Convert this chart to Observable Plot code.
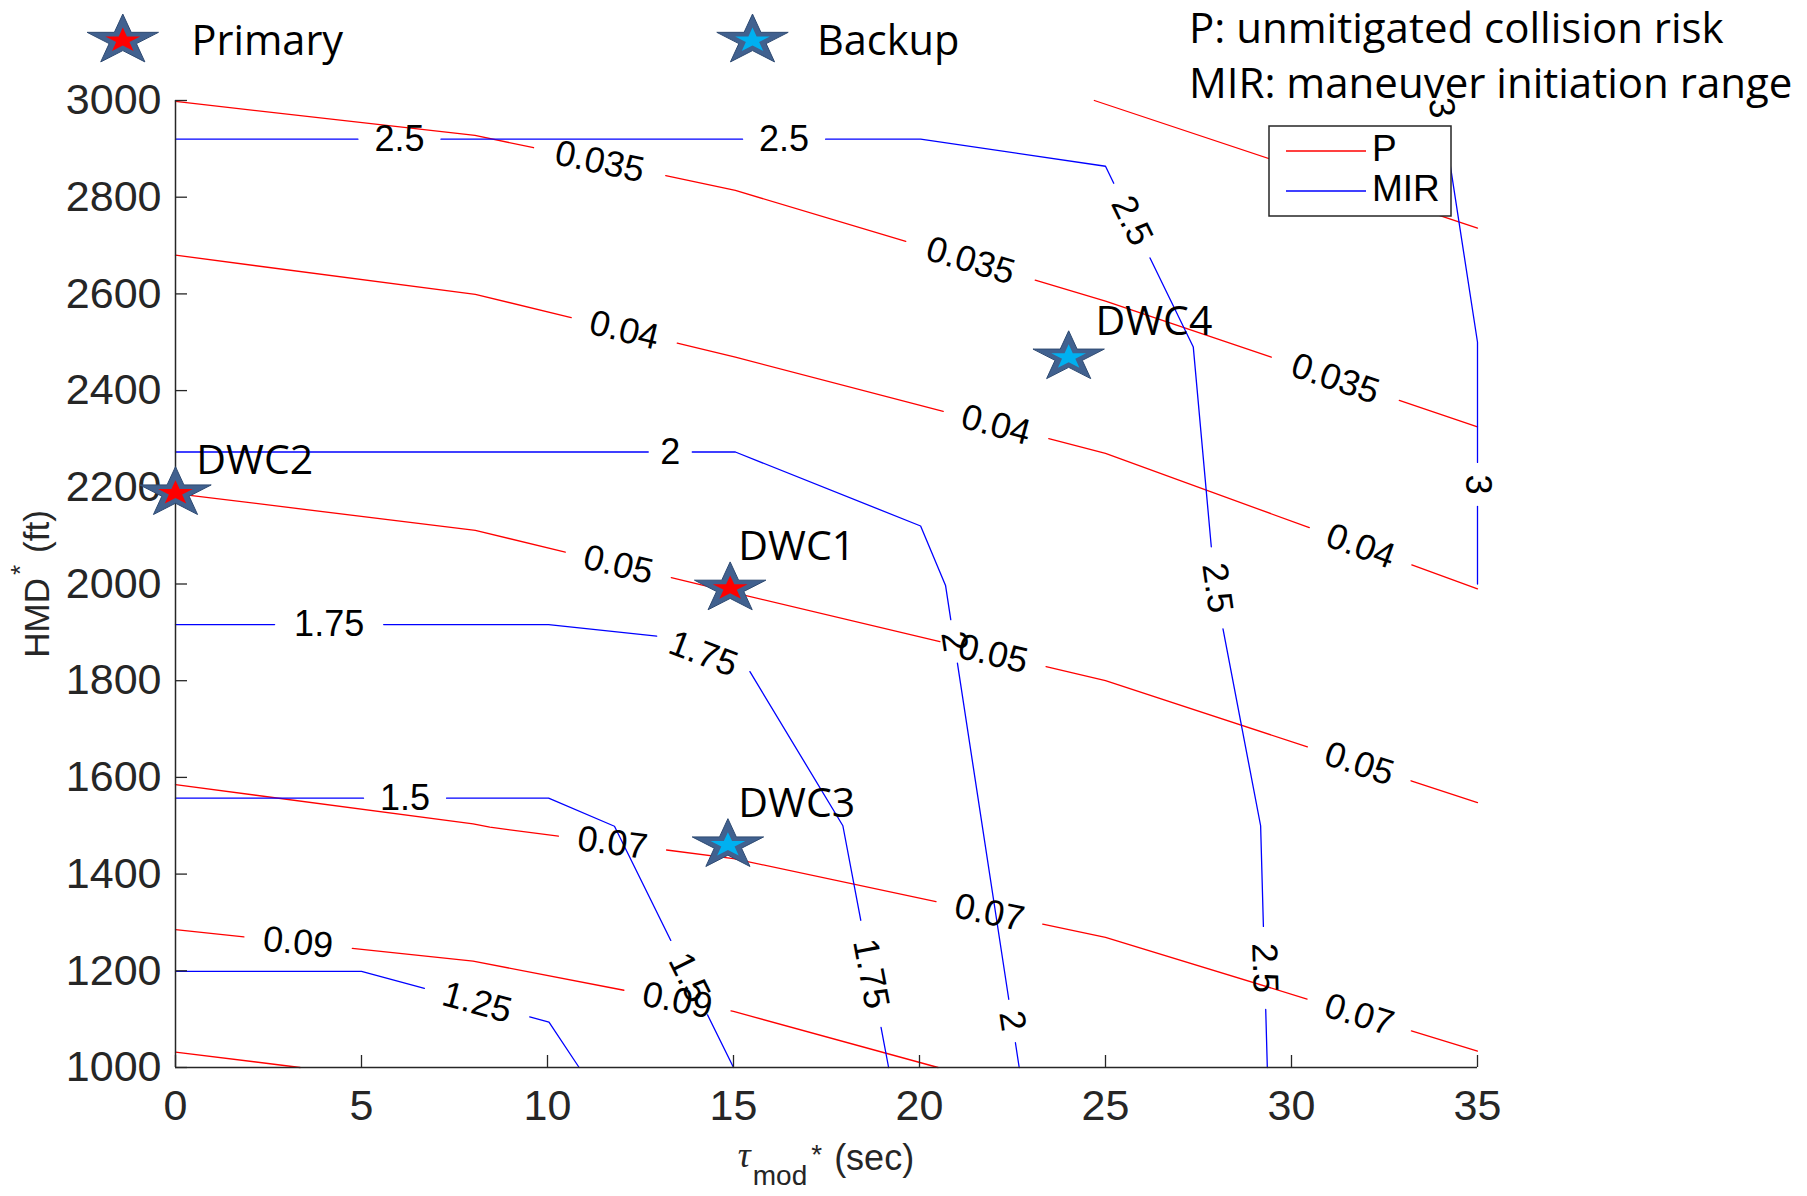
<!DOCTYPE html>
<html>
<head>
<meta charset="utf-8">
<script src="https://cdn.jsdelivr.net/npm/d3@7"></script>
<script src="https://cdn.jsdelivr.net/npm/@observablehq/plot@0.6"></script>
<style>
  html, body { margin: 0; padding: 0; background: #fff; }
  #chart svg { display: block; }
</style>
</head>
<body>
<div id="chart"></div>
<script>
// ---------------- DATA ----------------
const xTicks = [0, 5, 10, 15, 20, 25, 30, 35];
const yTicks = [1000, 1200, 1400, 1600, 1800, 2000, 2200, 2400, 2600, 2800, 3000];

// P: unmitigated collision risk contours (red)
const pLevels = ["0.03", "0.035", "0.04", "0.05", "0.07", "0.09", "0.11"];
const pTau = [
  [24.7, 35],
  [0, 8.05, 15.05, 25, 35],
  [0, 8.06, 15.05, 25, 35],
  [0, 8.06, 15, 25, 35],
  [0, 8, 8.45, 15, 25, 35],
  [0, 8, 15, 20.5],
  [0, 3.35]
];
const pHmd = [
  [3000, 2736],
  [2998, 2928, 2814, 2585, 2325],
  [2680, 2599, 2469, 2270, 1990],
  [2187, 2111, 1982, 1800, 1548],
  [1585, 1504, 1497, 1432, 1269, 1034],
  [1285, 1220, 1116, 1000],
  [1032, 1000]
];
const pLabelLevel = ["0.035", "0.035", "0.035", "0.04", "0.04", "0.04", "0.05", "0.05", "0.05", "0.07", "0.07", "0.07", "0.09", "0.09"];
const pLabelTau = [11.42, 21.4, 31.18, 12.07, 22.06, 31.88, 11.92, 22.0, 31.85, 11.76, 21.9, 31.85, 3.31, 13.51];
const pLabelHmd = [2880, 2676, 2425, 2527, 2330, 2083, 2045, 1863, 1635, 1472, 1328, 1116, 1268, 1145];

// MIR: maneuver initiation range contours (blue)
const mirLevels = ["1.25", "1.5", "1.75", "2", "2.5", "3"];
const mirTau = [
  [0, 5, 10.04, 10.85],
  [0, 10.03, 11.8, 15],
  [0, 10.03, 15, 17.94, 19.17],
  [0, 15.05, 20.03, 20.7, 22.68],
  [0, 20.03, 25, 27.36, 27.94, 29.17, 29.35],
  [34, 35, 35]
];
const mirHmd = [
  [1199, 1199, 1094, 1000],
  [1557, 1557, 1499, 1000],
  [1916, 1916, 1875, 1500, 1000],
  [2273, 2273, 2120, 1997, 1000],
  [2920, 2920, 2864, 2490, 1995, 1500, 1000],
  [3000, 2500, 2000]
];
const mirLabelLevel = ["2.5", "2.5", "2.5", "2.5", "2.5", "2", "2", "2", "1.75", "1.75", "1.75", "1.5", "1.5", "1.25", "3", "3"];
const mirLabelTau = [6.02, 16.36, 25.8, 28.05, 29.35, 13.3, 21.08, 22.56, 4.13, 14.38, 18.78, 6.17, 13.84, 8.13, 34.05, 35];
const mirLabelHmd = [2925, 2925, 2755, 1993, 1206, 2280, 1883, 1097, 1921, 1871, 1195, 1563, 1187, 1141, 2985, 2206];

// Design working cases
const dwcNames = ["DWC1", "DWC2", "DWC3", "DWC4"];
const dwcRole = ["Primary", "Primary", "Backup", "Backup"];
const dwcTau = [14.91, 0, 14.85, 24.01];
const dwcHmd = [1991, 2188, 1460, 2469];
const dwcLabelTau = [15.13, 0.56, 15.13, 24.73];
const dwcLabelHmd = [2076, 2254, 1546, 2543];

// ---------------- LAYOUT ----------------
const W = 1807, H = 1196;
const mL = 175, mR = 330, mT = 100, mB = 129;
const xScale = d3.scaleLinear([0, 35], [mL, W - mR]);
const yScale = d3.scaleLinear([1000, 3000], [H - mB, mT]);
const LABEL_SIZE = 36;

function labelWidth(t) {
  let w = 0;
  for (const c of t) w += c === "." ? 0.278 : 0.556;
  return w * LABEL_SIZE;
}

// Build contour pieces with gaps where labels sit (like MATLAB clabel)
function buildContours(levels, taus, hmds, labLevels, labTaus, labHmds) {
  const lines = levels.map((lev, i) => {
    const pts = taus[i].map((t, j) => [xScale(t), yScale(hmds[i][j])]);
    const cum = [0];
    for (let j = 1; j < pts.length; j++)
      cum.push(cum[j - 1] + Math.hypot(pts[j][0] - pts[j - 1][0], pts[j][1] - pts[j - 1][1]));
    return {lev, pts, cum, gaps: []};
  });
  const at = (L, s) => {
    const tot = L.cum[L.cum.length - 1];
    s = Math.max(0, Math.min(tot, s));
    let j = 1;
    while (j < L.cum.length - 1 && L.cum[j] < s) j++;
    const seg = L.cum[j] - L.cum[j - 1];
    const f = seg > 0 ? (s - L.cum[j - 1]) / seg : 0;
    return [L.pts[j - 1][0] + f * (L.pts[j][0] - L.pts[j - 1][0]),
            L.pts[j - 1][1] + f * (L.pts[j][1] - L.pts[j - 1][1])];
  };
  const labels = labLevels.map((lev, k) => {
    const p = [xScale(labTaus[k]), yScale(labHmds[k])];
    let best = {d: Infinity};
    for (const L of lines) {
      if (L.lev !== lev) continue;
      for (let j = 1; j < L.pts.length; j++) {
        const a = L.pts[j - 1], b = L.pts[j];
        const dx = b[0] - a[0], dy = b[1] - a[1], len2 = dx * dx + dy * dy;
        let t = len2 ? ((p[0] - a[0]) * dx + (p[1] - a[1]) * dy) / len2 : 0;
        t = Math.max(0, Math.min(1, t));
        const d = Math.hypot(p[0] - (a[0] + t * dx), p[1] - (a[1] + t * dy));
        if (d < best.d) best = {d, L, s: L.cum[j - 1] + t * Math.sqrt(len2)};
      }
    }
    const L = best.L;
    const tot = L.cum[L.cum.length - 1];
    const h = (1.3 * labelWidth(lev) + 18) / 2;
    const s0 = Math.max(0, best.s - h), s1 = Math.min(tot, best.s + h);
    L.gaps.push([s0, s1]);
    const p0 = at(L, s0), p1 = at(L, s1);
    let ang = Math.atan2(p1[1] - p0[1], p1[0] - p0[0]) * 180 / Math.PI;
    if (ang > 90) ang -= 180;
    if (ang <= -90) ang += 180;
    const clamped = (best.s - h < 0) || (best.s + h > tot);
    const c = clamped ? at(L, best.s) : [(p0[0] + p1[0]) / 2, (p0[1] + p1[1]) / 2];
    return {x: xScale.invert(c[0]), y: yScale.invert(c[1]), text: lev, angle: ang};
  });
  const pieces = [];
  lines.forEach((L) => {
    const tot = L.cum[L.cum.length - 1];
    const gaps = L.gaps.slice().sort((a, b) => a[0] - b[0]);
    let start = 0;
    const segs = [];
    for (const [g0, g1] of gaps) {
      if (g0 > start) segs.push([start, g0]);
      start = Math.max(start, g1);
    }
    if (start < tot) segs.push([start, tot]);
    segs.forEach(([a, b], k) => {
      if (b - a < 0.5) return;
      const id = L.lev + "-" + k;
      const pts = [at(L, a)];
      L.cum.forEach((c, j) => { if (c > a && c < b) pts.push(L.pts[j]); });
      pts.push(at(L, b));
      pts.forEach(q => pieces.push({id, x: xScale.invert(q[0]), y: yScale.invert(q[1])}));
    });
  });
  return {pieces, labels};
}

const red = buildContours(pLevels, pTau, pHmd, pLabelLevel, pLabelTau, pLabelHmd);
const blue = buildContours(mirLevels, mirTau, mirHmd, mirLabelLevel, mirLabelTau, mirLabelHmd);

const dwc = dwcNames.map((name, i) => ({
  name, role: dwcRole[i], tau: dwcTau[i], hmd: dwcHmd[i], lt: dwcLabelTau[i], lh: dwcLabelHmd[i]
}));

// Horizontally stretched five-point star (like the slide's star shapes)
const STRETCH = 1.42;
const wideStar = {
  draw(context, size) {
    const ka = 0.8908130915292852;
    const kr = Math.sin(Math.PI / 10) / Math.sin(7 * Math.PI / 10);
    const kx = Math.sin(2 * Math.PI / 10) * kr;
    const ky = -Math.cos(2 * Math.PI / 10) * kr;
    const r = Math.sqrt(size * ka);
    const x = kx * r, y = ky * r;
    context.moveTo(0, -r);
    context.lineTo(x * STRETCH, y);
    for (let i = 1; i < 5; ++i) {
      const a = 2 * Math.PI * i / 5, c = Math.cos(a), s = Math.sin(a);
      context.lineTo(s * r * STRETCH, -c * r);
      context.lineTo((c * x - s * y) * STRETCH, s * x + c * y);
    }
    context.closePath();
  }
};
const OUTER_R = 15.8, INNER_R = 7.7;
const STAR_BLUE = "#41618f", STAR_EDGE = "#2e4a72";
const PRIMARY_FILL = "#ff0000", BACKUP_FILL = "#00b0f0";

const plotH = H - mT - mB, plotW = W - mL - mR;
const AX = "#262626";

const svg = Plot.plot({
  width: W, height: H,
  marginLeft: mL, marginRight: mR, marginTop: mT, marginBottom: mB,
  x: {domain: [0, 35]},
  y: {domain: [1000, 3000]},
  style: {fontFamily: "'Liberation Sans', Arial, Helvetica, sans-serif", fontSize: "43px", color: AX, background: "white", overflow: "visible"},
  marks: [
    Plot.line(red.pieces, {x: "x", y: "y", z: "id", stroke: "#ff0000", strokeWidth: 1.3}),
    Plot.line(blue.pieces, {x: "x", y: "y", z: "id", stroke: "#0000ff", strokeWidth: 1.3}),
    Plot.text(red.labels, {x: "x", y: "y", text: "text", rotate: "angle", fontSize: LABEL_SIZE, fill: "black", lineAnchor: "middle"}),
    Plot.text(blue.labels, {x: "x", y: "y", text: "text", rotate: "angle", fontSize: LABEL_SIZE, fill: "black", lineAnchor: "middle"}),
    Plot.ruleX([0], {stroke: AX, strokeWidth: 1.5}),
    Plot.ruleY([1000], {stroke: AX, strokeWidth: 1.5}),
    Plot.tickX(xTicks, {x: d => d, insetTop: plotH - 12, stroke: AX, strokeWidth: 1.3}),
    Plot.tickY(yTicks, {y: d => d, insetRight: plotW - 12, stroke: AX, strokeWidth: 1.3}),
    Plot.axisX({ticks: xTicks, tickSize: 0, tickPadding: 22, tickFormat: d3.format("d"), label: null, fill: AX}),
    Plot.axisY({ticks: yTicks, tickSize: 0, tickPadding: 14, tickFormat: d3.format("d"), label: null, fill: AX}),
    Plot.dot(dwc, {x: "tau", y: "hmd", r: OUTER_R, symbol: wideStar, fill: STAR_BLUE, stroke: STAR_EDGE, strokeWidth: 1}),
    Plot.dot(dwc.filter(d => d.role === "Primary"), {x: "tau", y: "hmd", r: INNER_R, symbol: wideStar, fill: PRIMARY_FILL}),
    Plot.dot(dwc.filter(d => d.role === "Backup"), {x: "tau", y: "hmd", r: INNER_R, symbol: wideStar, fill: BACKUP_FILL}),
    Plot.text(dwc, {x: "lt", y: "lh", text: "name", textAnchor: "start", lineAnchor: "middle", fontFamily: "'Open Sans', sans-serif", fontSize: 41, fill: "black"})
  ]
});

document.getElementById("chart").appendChild(svg);

// ---------------- ANNOTATIONS (legend, notes, axis titles) ----------------
const root = d3.select(svg);
const SANS = "'Open Sans', sans-serif";
const HELV = "'Liberation Sans', Arial, sans-serif";

// top legend: Primary / Backup stars
const starOuter = d3.symbol(wideStar, Math.PI * OUTER_R * OUTER_R)();
const starInner = d3.symbol(wideStar, Math.PI * INNER_R * INNER_R)();
const topLegend = [
  {label: "Primary", cx: 122.8, tx: 191.5, fill: PRIMARY_FILL},
  {label: "Backup", cx: 752.5, tx: 817, fill: BACKUP_FILL}
];
const tl = root.append("g").attr("text-anchor", "start");
topLegend.forEach(d => {
  const g = tl.append("g").attr("transform", `translate(${d.cx},40.5)`);
  g.append("path").attr("d", starOuter).attr("fill", STAR_BLUE).attr("stroke", STAR_EDGE).attr("stroke-width", 1);
  g.append("path").attr("d", starInner).attr("fill", d.fill);
  tl.append("text").attr("x", d.tx).attr("y", 55).attr("text-anchor", "start").attr("font-family", SANS)
    .attr("font-size", 41.5).attr("fill", "black").text(d.label);
});

// definitions at top right
const notes = ["P: unmitigated collision risk", "MIR: maneuver initiation range"];
notes.forEach((t, i) => {
  root.append("text").attr("x", 1189).attr("y", i === 0 ? 43 : 98).attr("text-anchor", "start")
    .attr("font-family", SANS).attr("font-size", 42).attr("fill", "black").text(t);
});

// line legend box
const lg = root.append("g").attr("text-anchor", "start");
lg.append("rect").attr("x", 1269).attr("y", 126).attr("width", 182).attr("height", 90)
  .attr("fill", "white").attr("stroke", AX).attr("stroke-width", 1.5);
[{t: "P", c: "#ff0000", y: 151}, {t: "MIR", c: "#0000ff", y: 191}].forEach(d => {
  lg.append("line").attr("x1", 1286).attr("x2", 1366).attr("y1", d.y).attr("y2", d.y)
    .attr("stroke", d.c).attr("stroke-width", 1.3);
  lg.append("text").attr("x", 1372).attr("y", d.y + 9.5).attr("text-anchor", "start").attr("font-family", HELV)
    .attr("font-size", 37).attr("fill", "black").text(d.t);
});

// x-axis title: tau_mod^* (sec)
const xt = root.append("text").attr("x", (mL + W - mR) / 2).attr("y", 1170).attr("text-anchor", "middle")
  .attr("font-family", HELV).attr("font-size", 36).attr("fill", AX);
xt.append("tspan").attr("font-family", "'Liberation Serif', 'DejaVu Serif', serif").attr("font-style", "italic").attr("dy", -3).text("τ");
xt.append("tspan").attr("font-size", 28).attr("dy", 18).attr("dx", 2).text("mod");
xt.append("tspan").attr("font-size", 28).attr("dy", -21).attr("dx", 4).text("*");
xt.append("tspan").attr("dy", 6).attr("dx", 12).text("(sec)");

// y-axis title: HMD^* (ft)
const yt = root.append("text").attr("transform", "translate(49,584) rotate(-90)").attr("text-anchor", "middle")
  .attr("font-family", HELV).attr("font-size", 35).attr("fill", AX);
yt.append("tspan").text("HMD");
yt.append("tspan").attr("font-size", 26).attr("dy", -20).attr("dx", 3).text("*");
yt.append("tspan").attr("dy", 20).attr("dx", 12).text("(ft)");
</script>
</body>
</html>
